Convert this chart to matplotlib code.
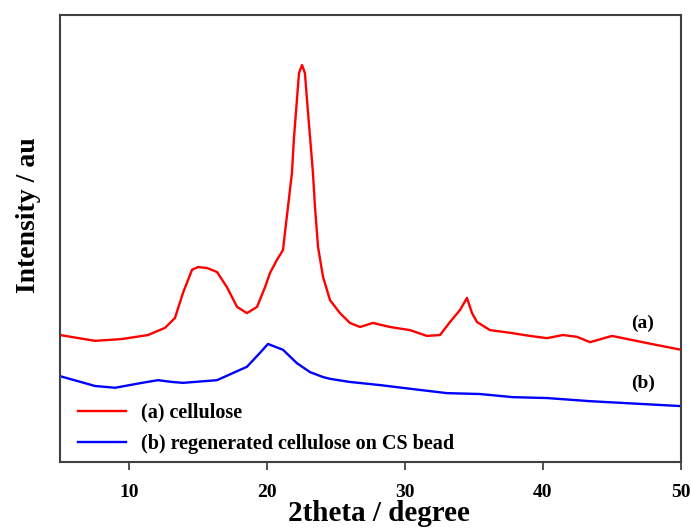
import numpy as np
import matplotlib
matplotlib.use('Agg')
import matplotlib.pyplot as plt

plt.rcParams['font.family'] = ['Liberation Serif', 'DejaVu Serif']
plt.rcParams['font.weight'] = 'bold'

# XRD traces, 2theta (degree) vs intensity (au)
theta_a = [5.0, 7.54, 9.49, 11.38, 12.61, 13.33, 13.91, 14.57, 15.0, 15.65,
           16.38, 17.10, 17.83, 18.55, 19.28, 19.86, 20.22, 20.72, 21.16, 21.30,
           21.52, 21.81, 21.96, 22.17, 22.32, 22.54, 22.75, 22.90, 23.12, 23.33,
           23.48, 23.70, 24.06, 24.57, 25.29, 26.01, 26.74, 27.68, 28.91, 30.36,
           31.59, 32.54, 33.26, 33.99, 34.49, 34.86, 35.22, 36.16, 37.61, 39.06,
           40.29, 41.45, 42.46, 43.41, 45.0, 47.54, 50.0]
cellulose = [28.4, 27.1, 27.5, 28.4, 30.0, 32.2, 37.8, 43.0, 43.6, 43.4,
             42.5, 39.1, 34.7, 33.3, 34.7, 39.1, 42.3, 45.2, 47.4, 51.2,
             57.0, 64.7, 72.7, 81.0, 87.0, 88.8, 87.0, 81.0, 72.7, 64.7,
             57.0, 48.1, 41.4, 36.2, 33.3, 31.1, 30.2, 31.1, 30.2, 29.5,
             28.2, 28.4, 31.3, 34.0, 36.7, 33.3, 31.3, 29.5, 28.9, 28.2,
             27.7, 28.4, 28.0, 26.8, 28.2, 26.6, 25.1]

theta_b = [5.0, 7.54, 8.99, 10.94, 12.10, 13.12, 13.91, 16.38, 18.55, 19.49,
           20.07, 21.16, 22.17, 23.12, 24.06, 24.57, 26.01, 28.19, 30.58, 33.04,
           35.43, 37.82, 40.29, 43.41, 50.0]
regenerated = [19.2, 17.0, 16.6, 17.7, 18.3, 17.9, 17.7, 18.3, 21.3, 24.4,
               26.4, 25.1, 22.1, 20.1, 19.0, 18.6, 17.9, 17.2, 16.3, 15.4,
               15.2, 14.5, 14.3, 13.6, 12.5]

fig = plt.figure(figsize=(6.91, 5.31), dpi=100)
ax = fig.add_axes([0.0868, 0.130, 0.8987, 0.8418])

ax.plot(theta_a, cellulose, color='red', lw=1.7, label='(a) cellulose')
ax.plot(theta_b, regenerated, color='blue', lw=1.7,
        label='(b) regenerated cellulose on CS bead')

# curve tags on the right side
ax.text(47.25, 31.0, '(a)', fontsize=14, fontweight='bold', ha='center', va='center')
ax.text(47.25, 17.6, '(b)', fontsize=14, fontweight='bold', ha='center', va='center')

ax.set_xlim(5, 50)
ax.set_ylim(0, 100)
ax.set_xticks([10, 20, 30, 40, 50])
ax.set_yticks([])
ax.tick_params(axis='x', direction='out', length=6, width=1.2, pad=10,
               labelsize=14, colors='#333333', labelcolor='black')
for lab in ax.get_xticklabels():
    lab.set_fontweight('bold')
for sp in ax.spines.values():
    sp.set_color('#404040')
    sp.set_linewidth(1.5)

ax.set_xlabel('2theta / degree', fontsize=21, fontweight='bold')
ax.xaxis.set_label_coords(0.513, -0.086)
ax.set_ylabel('Intensity / au', fontsize=20, fontweight='bold')
ax.yaxis.set_label_coords(-0.03, 0.553)

ax.legend(loc='lower left', frameon=False, handlelength=2.4, handletextpad=0.7,
          borderaxespad=0.5, labelspacing=0.55, bbox_to_anchor=(0.0, -0.022),
          prop={'weight': 'bold', 'size': 14.5})

plt.savefig('out.png', dpi=100)
